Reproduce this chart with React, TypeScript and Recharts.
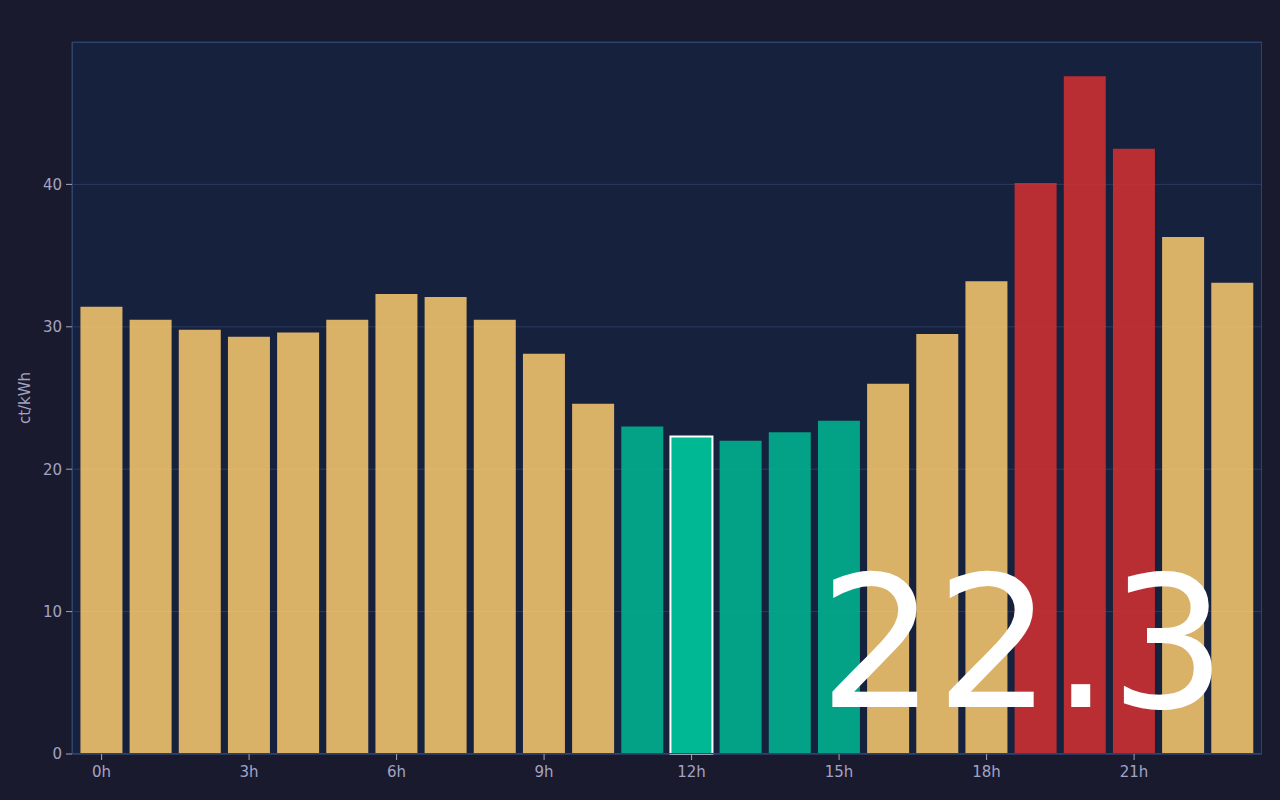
import React from 'react';
import { BarChart, Bar, XAxis, YAxis, CartesianGrid, Cell } from 'recharts';

const hours = [
  '0h', '1h', '2h', '3h', '4h', '5h', '6h', '7h', '8h', '9h', '10h', '11h',
  '12h', '13h', '14h', '15h', '16h', '17h', '18h', '19h', '20h', '21h', '22h', '23h'
];
const prices = [
  31.4, 30.5, 29.8, 29.3, 29.6, 30.5, 32.3, 32.1, 30.5, 28.1, 24.6, 23.0,
  22.3, 22.0, 22.6, 23.4, 26.0, 29.5, 33.2, 40.1, 47.6, 42.5, 36.3, 33.1
];
const yTicks = [0, 10, 20, 30, 40];
const currentHour = 12;
const cheapLimit = 24;
const expensiveLimit = 38;

const data = hours.map((h, i) => ({ hour: h, price: prices[i] }));

const tickStyle = { fill: '#a3a3c2', fontSize: 15, fontFamily: 'DejaVu Sans' };

const colorFor = (v: number) => {
  if (v < cheapLimit) return '#00b894';
  if (v > expensiveLimit) return '#d63031';
  return '#fdcb6e';
};

const App: React.FC = () => {
  return (
    <div style={{ position: 'fixed', left: 0, top: 0, width: 1280, height: 800, background: '#1a1a2e' }}>
      <BarChart
        width={1280}
        height={800}
        data={data}
        margin={{ top: 42, right: 18, left: 0, bottom: 0 }}
        barCategoryGap="7%"
      >
        <CartesianGrid vertical={false} stroke="#2b3a5e" fill="#16213e" />
        <XAxis
          dataKey="hour"
          interval={2}
          height={46}
          padding={{ left: 5, right: 5 }}
          axisLine={{ stroke: '#2e4470' }}
          tickLine={{ stroke: '#a3a3c2' }}
          tick={tickStyle}
          tickSize={6}
          tickMargin={6}
        />
        <YAxis
          width={72}
          domain={[0, 50]}
          ticks={yTicks}
          axisLine={{ stroke: '#2e4470' }}
          tickLine={{ stroke: '#a3a3c2' }}
          tick={tickStyle}
          tickSize={6}
          tickMargin={4}
          label={{
            value: 'ct/kWh',
            angle: -90,
            position: 'insideLeft',
            offset: 25,
            style: { fill: '#a3a3c2', fontSize: 15, fontFamily: 'DejaVu Sans', textAnchor: 'middle' }
          }}
        />
        <Bar dataKey="price" isAnimationActive={false}>
          {data.map((d, i) => (
            <Cell
              key={d.hour}
              fill={colorFor(d.price)}
              fillOpacity={i === currentHour ? 1 : 0.85}
              stroke={i === currentHour ? '#ffffff' : 'none'}
              strokeWidth={i === currentHour ? 2 : 0}
            />
          ))}
        </Bar>
      </BarChart>
      <div
        style={{
          position: 'absolute',
          left: 72,
          top: 42,
          width: 1188,
          height: 710,
          border: '1px solid #2e4470',
          pointerEvents: 'none'
        }}
      />
      <div
        style={{
          position: 'absolute',
          left: 819,
          top: 524,
          fontFamily: 'DejaVu Sans',
          fontSize: 183,
          lineHeight: '240px',
          color: '#ffffff',
          pointerEvents: 'none'
        }}
      >
        {prices[currentHour].toFixed(1)}
      </div>
    </div>
  );
};

export default App;
